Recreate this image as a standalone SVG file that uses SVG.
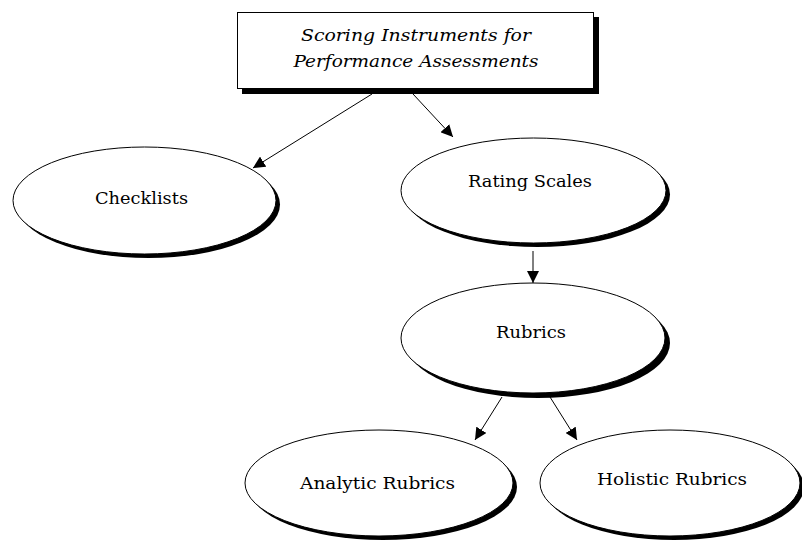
<svg xmlns="http://www.w3.org/2000/svg" width="802" height="543" viewBox="0 0 802 543">
<style>
.bg{fill:#fff}
.sh{fill:#000}
.nd{fill:#fff;stroke:#000;stroke-width:1}
.lbl{font-family:"DejaVu Serif","Liberation Serif",serif;font-size:17px;fill:#000;text-anchor:middle}
.ttl{font-family:"DejaVu Serif","Liberation Serif",serif;font-style:italic;font-size:17px;fill:#000;text-anchor:middle}
.ln{stroke:#000;stroke-width:1;fill:none;marker-end:url(#ah)}
</style>
<defs>
<marker id="ah" markerUnits="userSpaceOnUse" markerWidth="14" markerHeight="12" refX="12" refY="6" orient="auto">
<path d="M0,0 L12,6 L0,12 Z" fill="#000"/>
</marker>
</defs>
<rect class="bg" x="0" y="0" width="802" height="543"/>
<g id="connectors">
<line class="ln" x1="372" y1="94" x2="253" y2="168"/>
<line class="ln" x1="413" y1="94" x2="453" y2="137"/>
<line class="ln" x1="533" y1="251" x2="533" y2="283"/>
<line class="ln" x1="502" y1="397" x2="475" y2="440"/>
<line class="ln" x1="550" y1="397" x2="577" y2="440"/>
</g>
<g id="title">
<rect class="sh" x="242" y="17" width="357" height="77"/>
<rect class="nd" x="237.5" y="12.5" width="356" height="76"/>
<text class="ttl" x="416" y="41" textLength="230" lengthAdjust="spacingAndGlyphs">Scoring Instruments for</text>
<text class="ttl" x="416" y="67" textLength="245" lengthAdjust="spacingAndGlyphs">Performance Assessments</text>
</g>
<g id="checklists">
<ellipse class="sh" cx="148.5" cy="204.5" rx="131.5" ry="53.5"/>
<ellipse class="nd" cx="144.5" cy="200.5" rx="131.5" ry="53.5"/>
<text class="lbl" x="141.5" y="204" textLength="93" lengthAdjust="spacingAndGlyphs">Checklists</text>
</g>
<g id="rating-scales">
<ellipse class="sh" cx="537.5" cy="194.5" rx="132.5" ry="52.5"/>
<ellipse class="nd" cx="533.5" cy="190.5" rx="132.5" ry="52.5"/>
<text class="lbl" x="530" y="187" textLength="124" lengthAdjust="spacingAndGlyphs">Rating Scales</text>
</g>
<g id="rubrics">
<ellipse class="sh" cx="538" cy="343" rx="132" ry="55"/>
<ellipse class="nd" cx="533" cy="338" rx="132" ry="55"/>
<text class="lbl" x="531" y="338" textLength="70" lengthAdjust="spacingAndGlyphs">Rubrics</text>
</g>
<g id="analytic-rubrics">
<ellipse class="sh" cx="383" cy="487" rx="134" ry="53"/>
<ellipse class="nd" cx="379" cy="483" rx="134" ry="53"/>
<text class="lbl" x="377.5" y="489" textLength="155" lengthAdjust="spacingAndGlyphs">Analytic Rubrics</text>
</g>
<g id="holistic-rubrics">
<ellipse class="sh" cx="674" cy="487" rx="130" ry="53"/>
<ellipse class="nd" cx="670" cy="483" rx="130" ry="53"/>
<text class="lbl" x="672" y="485" textLength="150" lengthAdjust="spacingAndGlyphs">Holistic Rubrics</text>
</g>
</svg>
